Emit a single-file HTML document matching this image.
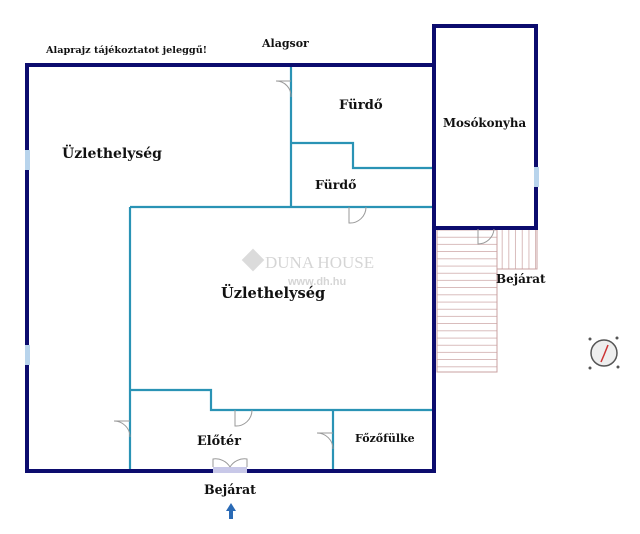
<!DOCTYPE html>
<html><head><meta charset="utf-8"><style>
body{margin:0;background:#fff}
svg{display:block}
text{font-family:"DejaVu Serif","Liberation Serif",serif;font-weight:bold;fill:#111}
</style></head><body>
<svg width="640" height="534" viewBox="0 0 640 534" xmlns="http://www.w3.org/2000/svg">
<defs>
<pattern id="hs" width="10" height="7.2" patternUnits="userSpaceOnUse"><line x1="0" y1="7" x2="10" y2="7" stroke="#c9a0a0" stroke-width="1"/></pattern>
<pattern id="vs" width="6.7" height="10" patternUnits="userSpaceOnUse"><line x1="6.5" y1="0" x2="6.5" y2="10" stroke="#c9a0a0" stroke-width="1"/></pattern>
</defs>
<rect x="437" y="229" width="60" height="143" fill="url(#hs)" stroke="#c9a0a0"/>
<rect x="497" y="229" width="40" height="40" fill="url(#vs)" stroke="#c9a0a0"/>
<g stroke="#2a93b5" stroke-width="2.2" fill="none">
<path d="M291 65V207"/><path d="M291 143H353V168H434"/>
<path d="M130 207H434"/><path d="M130 207V471"/>
<path d="M130 390H211V410H434"/><path d="M333 410V471"/>
</g>
<g stroke="#0c0c6e" stroke-width="4" fill="none">
<path d="M27 65H434"/><path d="M27 63V473"/><path d="M25 471H436"/>
<path d="M434 228V473"/>
<rect x="434" y="26" width="102" height="202"/>
</g>
<g fill="#b8d4ec">
<rect x="25" y="150" width="5" height="20"/><rect x="25" y="345" width="5" height="20"/>
<rect x="534" y="167" width="5" height="20"/>
<rect x="213" y="467" width="34" height="6" fill="#c8c8e8"/>
</g>
<g stroke="#999" stroke-width="1" fill="none">
<path d="M291 81H276A15 15 0 0 1 291 97"/>
<path d="M349 207V223A16 16 0 0 0 366 207"/>
<path d="M478 229V244A16 16 0 0 0 494 229"/>
<path d="M130 421H114A16 16 0 0 1 130 437"/>
<path d="M235 410V426A16 16 0 0 0 252 410"/>
<path d="M333 433H317A16 16 0 0 1 333 449"/>
<path d="M213 467V459A17 17 0 0 1 230 467M247 467V459A17 17 0 0 0 230 467"/>
</g>
<g opacity="0.35">
<rect x="245" y="252" width="16" height="16" transform="rotate(45 253 260)" fill="#999"/>
<text x="265" y="268" style="font-family:'Liberation Serif',serif;font-weight:normal;fill:#888" font-size="17">DUNA HOUSE</text>
<text x="288" y="285" style="font-family:'Liberation Sans',sans-serif;fill:#888" font-size="11">www.dh.hu</text>
</g>
<text x="46" y="53" font-size="9.7">Alaprajz tájékoztatot jeleggű!</text>
<text x="262" y="47" font-size="11">Alagsor</text>
<text x="62" y="158" font-size="14">Üzlethelység</text>
<text x="221" y="298" font-size="14.6">Üzlethelység</text>
<text x="339" y="109" font-size="13.2">Fürdő</text>
<text x="315" y="189" font-size="12.5">Fürdő</text>
<text x="443" y="127" font-size="11.8">Mosókonyha</text>
<text x="496" y="283" font-size="12">Bejárat</text>
<text x="197" y="445" font-size="12.8">Előtér</text>
<text x="355" y="442" font-size="11">Főzőfülke</text>
<text x="204" y="494" font-size="12.6">Bejárat</text>
<path d="M231 503L226 511H229V519H233V511H236Z" fill="#2a6ab5"/>
<circle cx="604" cy="353" r="13" fill="#eee" stroke="#555" stroke-width="1.5"/>
<path d="M608 345L604 355L601 362" stroke="#c33" stroke-width="1.5" fill="none"/>
<g fill="#555"><circle cx="590" cy="339" r="1.5"/><circle cx="617" cy="338" r="1.5"/><circle cx="590" cy="368" r="1.5"/><circle cx="618" cy="367" r="1.5"/></g>
</svg>
</body></html>
